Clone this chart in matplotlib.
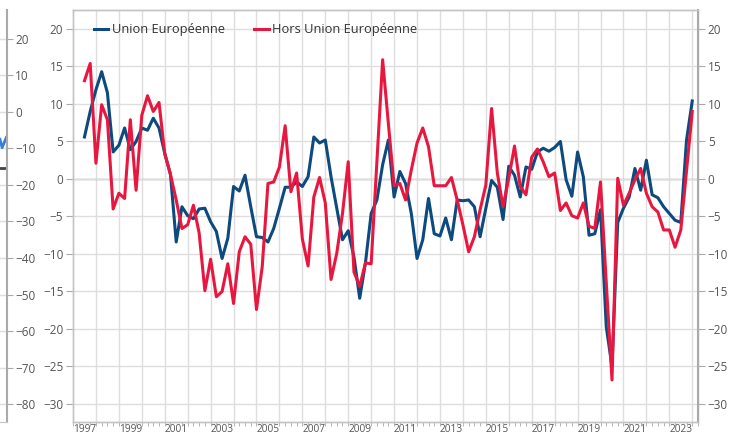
import numpy as np
import matplotlib.pyplot as plt

plt.rcParams['font.family'] = ['Open Sans', 'DejaVu Sans']

# quarterly values, first point mid-1997
ue = [5.6, 9.0, 11.9, 14.3, 11.5, 3.6, 4.5, 6.8, 3.9, 5.0,
      6.8, 6.5, 8.1, 6.8, 3.4, 0.6, -8.4, -3.7, -4.9, -5.3,
      -4.0, -3.9, -5.7, -7.0, -10.6, -7.9, -1.0, -1.6, 0.5, -3.7,
      -7.7, -7.8, -8.4, -6.6, -3.9, -1.1, -1.1, -0.4, -1.0, 0.3,
      5.6, 4.8, 5.2, 0.3, -3.9, -8.1, -6.9, -10.4, -15.9, -11.2,
      -4.6, -2.8, 1.9, 5.2, -2.4, 1.0, -0.6, -4.6, -10.6, -8.1,
      -2.6, -7.3, -7.6, -5.2, -8.1, -2.8, -2.9, -2.8, -3.7, -7.7,
      -3.9, -0.2, -1.1, -5.4, 1.7, 0.5, -2.4, 1.6, 1.3, 3.6,
      4.1, 3.7, 4.2, 5.0, -0.1, -2.3, 3.6, 0.3, -7.5, -7.3,
      -4.1, -19.7, -25.0, -5.8, -3.9, -2.4, 1.4, -1.5, 2.5, -2.1,
      -2.5, -3.7, -4.6, -5.5, -5.8, 5.2, 10.4]
hors_ue = [13.1, 15.4, 2.1, 9.9, 7.9, -4.0, -1.9, -2.6, 7.9, -1.5,
           8.5, 11.1, 9.0, 10.2, 3.4, 0.6, -2.8, -6.6, -6.1, -3.5,
           -7.2, -14.9, -10.7, -15.7, -15.0, -11.3, -16.6, -9.7, -7.7, -8.7,
           -17.4, -11.7, -0.6, -0.4, 1.6, 7.1, -1.7, 0.8, -8.0, -11.6,
           -2.4, 0.2, -3.2, -13.4, -9.9, -4.6, 2.3, -12.4, -14.3, -11.2,
           -11.3, 2.3, 15.9, 7.4, -0.9, -0.6, -2.8, 1.2, 4.8, 6.8,
           4.3, -0.9, -0.9, -0.9, 0.2, -2.8, -6.1, -9.7, -7.7, -4.1,
           -0.8, 9.4, 0.8, -3.7, 0.1, 4.4, -1.0, -2.1, 2.9, 4.0,
           2.3, 0.3, 0.8, -4.2, -3.2, -4.9, -5.2, -3.2, -6.3, -6.6,
           -0.4, -13.8, -26.8, 0.1, -3.5, -1.9, -0.1, 1.4, -1.9, -3.7,
           -4.4, -6.8, -6.8, -9.1, -6.8, 1.1, 9.0]
year_labels = list(range(1997, 2024, 2))
y_ticks = list(range(-30, 21, 5))

# bits of the neighbouring chart cut at the left edge
left_ticks = list(range(-80, 21, 10))
left_blue = [-7.5, -9.8, -7.0]
left_dash = [-15.3, -15.3]

x = 1997.5 + 0.25 * np.arange(len(ue))

fig = plt.figure(figsize=(7.34, 4.37), dpi=100)
ax = fig.add_axes([73/734, 15/437, 625/734, 412/437])

grid_c = '#dedede'
txt_c = '#555555'

ax.set_xlim(1997.04, 2024.22)
ax.set_ylim(-32.4, 22.53)
ax.set_yticks(y_ticks)
ax.yaxis.grid(True, color=grid_c, lw=1, zorder=0)
for yr in range(1998, 2025):
    ax.axvline(yr, color=grid_c, lw=1, zorder=0)
ax.axhline(0, color='#a0a0a0', lw=1, zorder=1)

ax.plot(x, ue, color='#0d4a7e', lw=2.2, label='Union Européenne', zorder=3)
ax.plot(x, hors_ue, color='#e8173f', lw=2.2, label='Hors Union Européenne', zorder=4)

ax.set_xticks([y + 0.5 for y in year_labels])
ax.set_xticklabels([str(y) for y in year_labels])
ax.set_xticks(np.arange(1997, 2024.3, 0.25), minor=True)
ax.tick_params(axis='x', which='major', length=0, pad=1.5, labelsize=7.3, labelcolor=txt_c)
ax.tick_params(axis='x', which='minor', length=3, color='#aaaaaa')
ax.tick_params(axis='y', length=5, color='#aaaaaa', labelsize=8.5, labelcolor=txt_c, pad=2)

axr = ax.twinx()
axr.set_ylim(ax.get_ylim())
axr.set_yticks(y_ticks)
axr.tick_params(axis='y', length=5, color='#aaaaaa', labelsize=8.5, labelcolor=txt_c, pad=2)

for a in (ax, axr):
    for s in a.spines.values():
        s.set_color('#c4c4c4')
        s.set_linewidth(1)
axr.spines['right'].set_color('#aaaaaa')
axr.spines['right'].set_linewidth(1.5)

leg = ax.legend(loc='upper left', bbox_to_anchor=(0.033, 0.968), ncol=2, frameon=False,
                handlelength=1.1, handletextpad=0.3, columnspacing=2.3,
                borderpad=0, borderaxespad=0, fontsize=9.3)
for t in leg.get_texts():
    t.set_color('#333333')

# left strip from the neighbouring chart
axl = fig.add_axes([0, 15/437, 7/734, 412/437])
axl.set_xlim(0, 1)
axl.set_ylim(-84.9, 27.9)
axl.set_xticks([])
axl.set_yticks(left_ticks)
axl.yaxis.tick_right()
axl.yaxis.grid(True, color=grid_c, lw=1)
axl.tick_params(axis='y', length=4, color='#aaaaaa', labelsize=8.5, labelcolor=txt_c, pad=2)
axl.spines['left'].set_visible(False)
axl.spines['top'].set_visible(False)
axl.spines['right'].set_color('#aaaaaa')
axl.spines['right'].set_linewidth(1.5)
axl.spines['bottom'].set_color('#c4c4c4')
axl.plot([0.0, 0.3, 0.9], left_blue, color='#3a7fd5', lw=2, clip_on=False)
axl.plot([0.0, 0.7], left_dash, color='#444444', lw=2)

fig.savefig('out.png', dpi=100)
